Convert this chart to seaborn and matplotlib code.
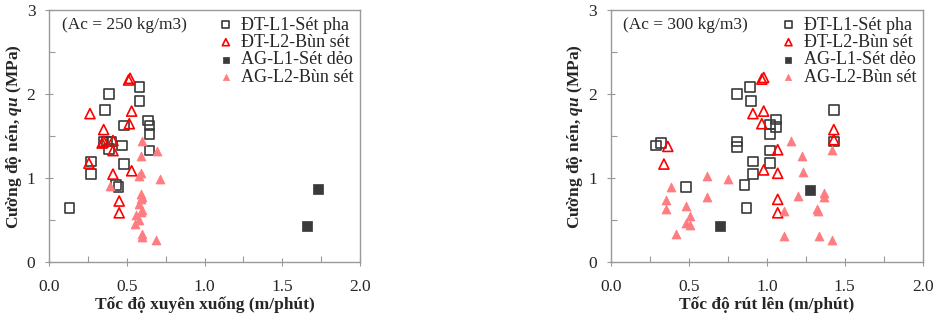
import numpy as np
import pandas as pd
import matplotlib
matplotlib.use('Agg')
import matplotlib.pyplot as plt
import seaborn as sns
from matplotlib.ticker import MultipleLocator

sns.set_style('white')
plt.rcParams['font.family'] = ['Liberation Serif', 'DejaVu Serif']
plt.rcParams['mathtext.fontset'] = 'custom'
plt.rcParams['mathtext.it'] = 'Liberation Serif:italic:bold'
plt.rcParams['mathtext.bf'] = 'Liberation Serif:bold'

series_names = ['ĐT-L1-Sét pha', 'ĐT-L2-Bùn sét', 'AG-L1-Sét dẻo', 'AG-L2-Bùn sét']

# Ac = 250 kg/m3 (toc do xuyen xuong)
p1_l1_x = [0.13, 0.27, 0.27, 0.36, 0.385, 0.35, 0.37, 0.40, 0.385, 0.47, 0.48, 0.48, 0.43, 0.445,
           0.58, 0.58, 0.635, 0.645, 0.645, 0.645]
p1_l1_y = [0.65, 1.05, 1.20, 1.81, 2.00, 1.43, 1.44, 1.44, 1.35, 1.39, 1.63, 1.17, 0.92, 0.90,
           2.09, 1.92, 1.69, 1.63, 1.53, 1.33]
p1_l2_x = [0.255, 0.262, 0.34, 0.35, 0.35, 0.41, 0.41, 0.41, 0.45, 0.45, 0.51, 0.52, 0.515, 0.53, 0.53]
p1_l2_y = [1.18, 1.77, 1.42, 1.44, 1.58, 1.45, 1.33, 1.05, 0.73, 0.59, 2.17, 2.19, 1.65, 1.80, 1.09]
p1_ag1_x = [1.66, 1.73]
p1_ag1_y = [0.43, 0.87]
p1_ag2_x = [0.39, 0.60, 0.695, 0.59, 0.59, 0.58, 0.71, 0.59, 0.60, 0.59, 0.575, 0.60, 0.59, 0.56,
            0.575, 0.55, 0.60, 0.60, 0.69]
p1_ag2_y = [0.91, 1.44, 1.33, 1.27, 1.06, 1.03, 0.99, 0.81, 0.78, 0.76, 0.69, 0.62, 0.60, 0.56,
            0.50, 0.46, 0.34, 0.30, 0.27]

# Ac = 300 kg/m3 (toc do rut len)
p2_l1_x = [0.29, 0.32, 0.48, 0.81, 0.81, 0.81, 0.893, 0.897, 1.06, 1.02, 1.06, 1.02, 1.02, 0.91,
           1.02, 0.91, 0.857, 0.87, 1.43, 1.43]
p2_l1_y = [1.39, 1.42, 0.90, 2.00, 1.44, 1.37, 2.09, 1.92, 1.70, 1.64, 1.61, 1.53, 1.33, 1.20,
           1.18, 1.05, 0.92, 0.65, 1.81, 1.44]
p2_l2_x = [0.365, 0.34, 0.968, 0.98, 0.911, 0.98, 0.968, 1.43, 1.43, 1.07, 0.98, 1.07, 1.07, 1.07]
p2_l2_y = [1.38, 1.17, 2.18, 2.20, 1.77, 1.80, 1.65, 1.58, 1.46, 1.34, 1.10, 1.06, 0.75, 0.59]
p2_ag1_x = [0.70, 1.28]
p2_ag1_y = [0.43, 0.86]
p2_ag2_x = [0.387, 0.355, 0.355, 0.48, 0.51, 0.48, 0.51, 0.42, 0.617, 0.617, 0.75, 1.157, 1.225,
            1.23, 1.42, 1.20, 1.37, 1.37, 1.32, 1.33, 1.11, 1.11, 1.335, 1.42]
p2_ag2_y = [0.90, 0.74, 0.63, 0.67, 0.55, 0.47, 0.44, 0.34, 1.03, 0.78, 0.99, 1.44, 1.27,
            1.07, 1.34, 0.79, 0.83, 0.78, 0.63, 0.61, 0.61, 0.32, 0.32, 0.27]

dark = '#3a3a3a'
red = '#ff0000'
pink = '#ff7c80'
spine_col = '#999999'

fig = plt.figure(figsize=(9.37, 3.2), dpi=100)
ax1 = fig.add_axes([0.0526, 0.180, 0.3316, 0.788])
ax2 = fig.add_axes([0.652, 0.180, 0.3327, 0.788])


def draw_panel(ax, l1, l2, ag1, ag2, ac_text, xlabel):
    sns.scatterplot(x=l1[0], y=l1[1], ax=ax, marker='s', s=48, facecolor='none',
                    edgecolor=dark, linewidth=1.2, label=series_names[0])
    sns.scatterplot(x=l2[0], y=l2[1], ax=ax, marker='^', s=52, facecolor='none',
                    edgecolor=red, linewidth=1.2, label=series_names[1])
    sns.scatterplot(x=ag1[0], y=ag1[1], ax=ax, marker='s', s=42, color=dark,
                    edgecolor=dark, linewidth=0.5, label=series_names[2])
    sns.scatterplot(x=ag2[0], y=ag2[1], ax=ax, marker='^', s=42, color=pink,
                    edgecolor=pink, linewidth=0.5, label=series_names[3])
    ax.set_xlim(0, 2)
    ax.set_ylim(0, 3)
    ax.xaxis.set_major_locator(MultipleLocator(0.5))
    ax.xaxis.set_minor_locator(MultipleLocator(0.25))
    ax.yaxis.set_major_locator(MultipleLocator(1))
    ax.yaxis.set_minor_locator(MultipleLocator(0.5))
    ax.set_xticklabels([f'{v:.1f}' for v in ax.get_xticks()])
    ax.tick_params(which='major', direction='inout', length=6, width=0.8, color=spine_col,
                   labelsize=12.5)
    ax.tick_params(axis='x', which='major', pad=9)
    ax.tick_params(axis='y', which='major', pad=7)
    ax.tick_params(which='minor', direction='in', length=4, width=0.8, color=spine_col)
    ax.tick_params(axis='both', which='both', bottom=True, left=True)
    for sp in ax.spines.values():
        sp.set_color(spine_col)
        sp.set_linewidth(1.0)
    ax.set_xlabel(xlabel, fontsize=12.5, fontweight='bold', labelpad=1)
    ax.set_ylabel(r'Cường độ nén, $\mathit{qu}$ (MPa)', fontsize=12.5, fontweight='bold')
    ax.yaxis.set_label_coords(-0.082, 0.5)
    ax.text(0.04, 0.94, ac_text, transform=ax.transAxes, fontsize=12.5, va='center')
    ax.legend(loc='upper right', bbox_to_anchor=(1.0, 1.0), frameon=False, fontsize=13,
              markerscale=0.7, handletextpad=0.35, labelspacing=0.02, borderaxespad=0.1,
              borderpad=0.25, handlelength=1.0)


draw_panel(ax1, (p1_l1_x, p1_l1_y), (p1_l2_x, p1_l2_y), (p1_ag1_x, p1_ag1_y),
           (p1_ag2_x, p1_ag2_y), '(Ac = 250 kg/m3)', 'Tốc độ xuyên xuống (m/phút)')
draw_panel(ax2, (p2_l1_x, p2_l1_y), (p2_l2_x, p2_l2_y), (p2_ag1_x, p2_ag1_y),
           (p2_ag2_x, p2_ag2_y), '(Ac = 300 kg/m3)', 'Tốc độ rút lên (m/phút)')

fig.savefig('out.png', dpi=100)
